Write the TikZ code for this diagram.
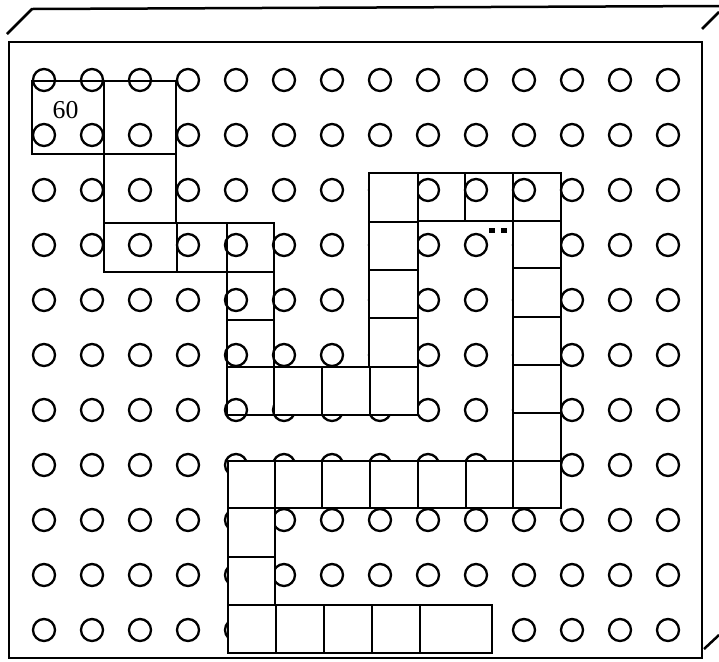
\documentclass[tikz,border=0pt]{standalone}
\usepackage{fontspec}
\setmainfont{Liberation Serif}
\usepackage{tikz}

\begin{document}
\begin{tikzpicture}[x=0.3mm,y=-0.3mm,line width=0.75mm,
  hole/.style={line width=0.7mm},
  card/.style={draw,fill=white},
  opencard/.style={draw}]
  \useasboundingbox (0,0) rectangle (719,661);
  \draw (9,42) rectangle (702,658); % 板の前面
  \draw (7,34) -- (32,9) -- (719,6); % 板の上面の奥の辺
  \draw (702,29) -- (719,12); % 右上の奥行きの線
  \draw (704,649) -- (719,635); % 右下の奥行きの線
  \foreach \i in {0,...,13}
    \foreach \j in {0,...,10}
      \draw[hole] ({44+48*\i},{80+55*\j}) circle (11); % 14列11行の穴
  \draw[opencard] (32,81) rectangle (104,154); % 最初のカード（60）
  \node (num) at (65.5,110) {\fontsize{22}{22}\selectfont 60};
  \draw[opencard] (104,81) rectangle (176,154); % 2枚目
  \draw[opencard] (104,154) rectangle (176,223); % 3枚目
  \draw[opencard] (104,223) rectangle (177,272); % 横長のカード
  \draw[opencard] (177,223) rectangle (227,272);
  \foreach \y/\z in {223/272,272/320,320/367,367/415}
    \draw[opencard] (227,\y) rectangle (274,\z); % 左の縦の列（穴が見える）
  \foreach \x/\z in {418/465,465/513,513/561}
    \draw[opencard] (\x,173) rectangle (\z,221); % 上の横の列（穴が見える）
  \foreach \x/\z in {274/322,322/370,370/418}
    \draw[card] (\x,367) rectangle (\z,415); % 下の横の列（穴を隠す）
  \foreach \y/\z in {173/222,222/270,270/318,318/367}
    \draw[card] (369,\y) rectangle (418,\z); % 中央の縦の列
  \foreach \y/\z in {221/268,268/317,317/365,365/413,413/461}
    \draw[card] (513,\y) rectangle (561,\z); % 右の縦の列
  \foreach \x/\z in {228/275,275/322,322/370,370/418,418/466,466/513,513/561}
    \draw[card] (\x,461) rectangle (\z,508); % 下から3段目の横の列
  \foreach \y/\z in {508/557,557/605}
    \draw[card] (228,\y) rectangle (275,\z); % 左下の縦の列
  \foreach \x/\z in {228/276,276/324,324/372,372/420,420/492}
    \draw[card] (\x,605) rectangle (\z,653); % 一番下の横の列
  \fill (489,228) rectangle (495,233); % 小さな黒い点
  \fill (501,228) rectangle (507,233);
\end{tikzpicture}
\end{document}
